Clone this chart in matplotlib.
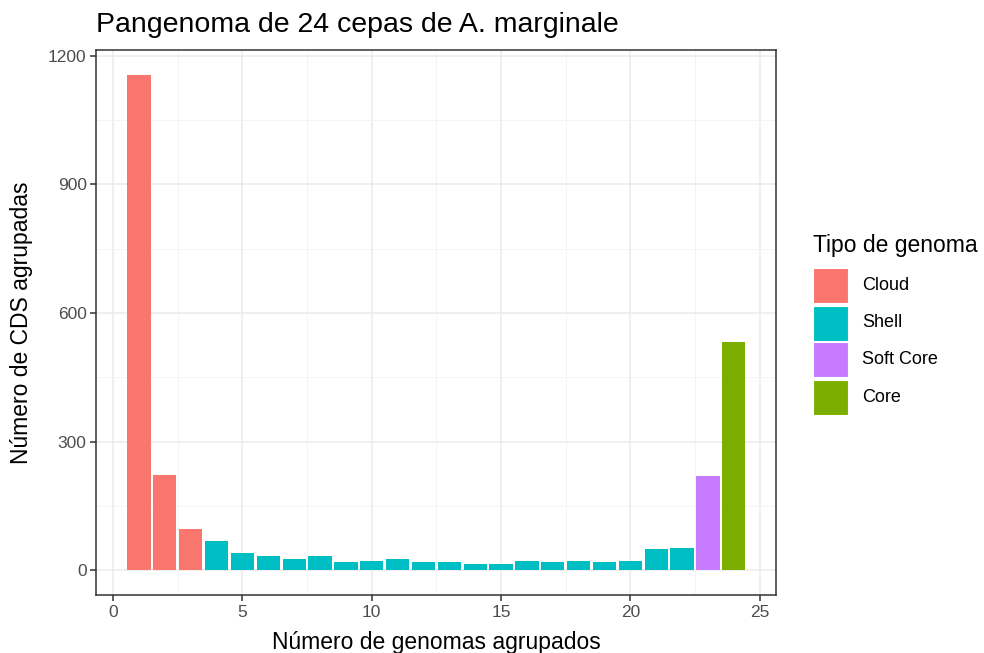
import matplotlib
matplotlib.use("Agg")
import matplotlib.pyplot as plt
from matplotlib.patches import Rectangle
import numpy as np

plt.rcParams['font.family'] = ['Liberation Sans', 'DejaVu Sans']

# datos
genomas = np.arange(1, 25)
cds = [1155, 223, 96, 67, 41, 33, 27, 33, 19, 22, 27, 19,
       19, 15, 15, 22, 19, 22, 19, 22, 49, 52, 220, 532]
tipo = ['Cloud'] * 3 + ['Shell'] * 19 + ['Soft Core', 'Core']

tipos = ['Cloud', 'Shell', 'Soft Core', 'Core']
colores = {'Cloud': '#F8766D', 'Shell': '#00BFC4',
           'Soft Core': '#C77CFF', 'Core': '#7CAE00'}

fig = plt.figure(figsize=(9.84, 6.53), dpi=100)
ax = fig.add_axes([0.098, 0.089, 0.691, 0.834])

ax.bar(genomas, cds, width=0.9, color=[colores[t] for t in tipo], zorder=3)

ax.set_xlim(-0.645, 25.645)
ax.set_ylim(-57.75, 1212.75)
ax.set_xticks([0, 5, 10, 15, 20, 25])
ax.set_yticks([0, 300, 600, 900, 1200])
ax.set_xticks(np.arange(2.5, 25, 5), minor=True)
ax.set_yticks([150, 450, 750, 1050], minor=True)

ax.grid(which='major', color='#EBEBEB', linewidth=1.1, zorder=0)
ax.grid(which='minor', color='#F3F3F3', linewidth=0.6, zorder=0)
ax.set_axisbelow(True)

for s in ax.spines.values():
    s.set_color('#333333')
    s.set_linewidth(1.1)

ax.tick_params(which='major', length=4, width=1.1, color='#333333',
               labelcolor='#4D4D4D', labelsize=12.5, pad=3)
ax.tick_params(which='minor', length=0)

ax.set_title('Pangenoma de 24 cepas de A. marginale', loc='left',
             fontsize=20.5, pad=13, color='black')
ax.set_xlabel('Número de genomas agrupados', fontsize=16.5, va='top')
ax.xaxis.set_label_coords(0.5, -0.066)
ax.set_ylabel('Número de CDS agrupadas', fontsize=16.5)
ax.yaxis.set_label_coords(-0.094, 0.5)

# leyenda
fig.text(813 / 984, 1 - 252 / 653, 'Tipo de genoma', fontsize=16.5,
         va='baseline', ha='left')
for i, t in enumerate(tipos):
    y0 = 268.5 + i * 37
    fig.add_artist(Rectangle((813 / 984, 1 - (y0 + 35) / 653), 35 / 984, 35 / 653,
                             transform=fig.transFigure, facecolor=colores[t],
                             edgecolor='white', linewidth=0.8))
    fig.text(862 / 984, 1 - (y0 + 17.5) / 653, t, fontsize=13,
             va='center', ha='left')

fig.savefig('out.png', dpi=100)
